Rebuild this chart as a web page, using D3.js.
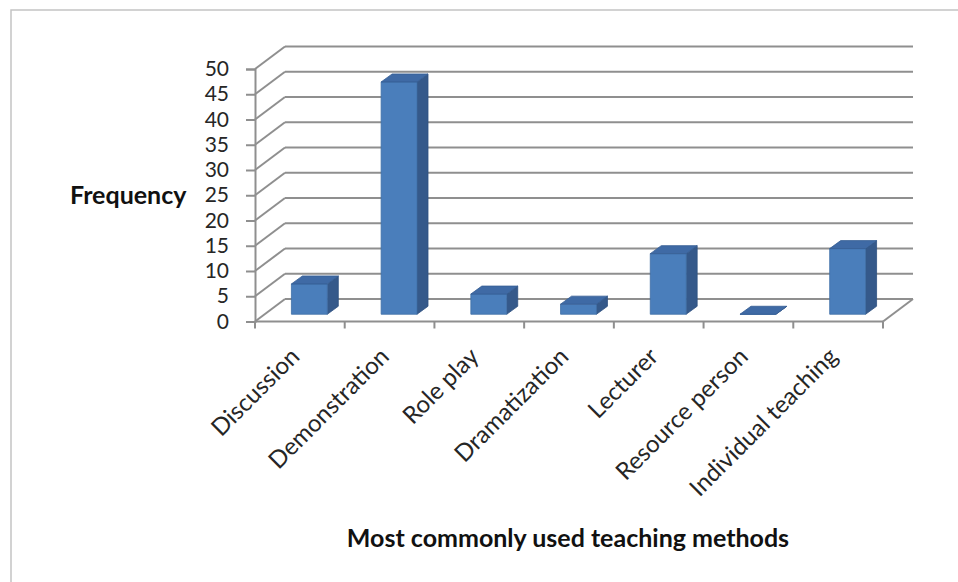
<!DOCTYPE html>
<html>
<head>
<meta charset="utf-8">
<script src="https://cdn.jsdelivr.net/npm/d3@7"></script>
<style>
  html, body { margin: 0; padding: 0; background: #ffffff; }
  svg { display: block; }
</style>
</head>
<body>
<svg id="chart" width="958" height="582"></svg>
<script>
// Teaching methods and how often each was reported
const categories = ["Discussion", "Demonstration", "Role play", "Dramatization", "Lecturer", "Resource person", "Individual teaching"];
const frequency = [6, 46, 4, 2, 12, 0, 13];
const yTicks = [0, 5, 10, 15, 20, 25, 30, 35, 40, 45, 50];
const yTitle = "Frequency";
const xTitle = "Most commonly used teaching methods";

const svg = d3.select("#chart");
const font = "Lato, 'Open Sans', sans-serif";

// Plot geometry: front plane of the 3-D box plus a receding depth offset
const front = { left: 255, right: 883, bottom: 321.5, top: 69 };
const depth = { dx: 30, dy: -22.5 };
const gridColor = "#8f8f8f";

const x = d3.scaleBand().domain(categories).range([front.left, front.right]).paddingInner(0).paddingOuter(0);
const y = d3.scaleLinear().domain([0, 50]).range([front.bottom, front.top]);

// Outer frame
svg.append("path")
  .attr("d", `M11,582 L11,10 L958,10`)
  .attr("fill", "none").attr("stroke", "#c4c4c4").attr("stroke-width", 1.5);

const grid = svg.append("g").attr("stroke", gridColor).attr("stroke-width", 2).attr("fill", "none");

// Back-wall gridlines and side-wall diagonals
yTicks.forEach(v => {
  const yf = y(v);
  grid.append("line")
    .attr("x1", front.left + depth.dx).attr("y1", yf + depth.dy)
    .attr("x2", front.right + depth.dx).attr("y2", yf + depth.dy);
  grid.append("line")
    .attr("x1", front.left).attr("y1", yf)
    .attr("x2", front.left + depth.dx).attr("y2", yf + depth.dy);
});
// Floor right edge
grid.append("line")
  .attr("x1", front.right).attr("y1", y(0))
  .attr("x2", front.right + depth.dx).attr("y2", y(0) + depth.dy);

// Front value axis
const yAxis = d3.axisLeft(y).tickValues(yTicks).tickSize(9).tickPadding(17).tickFormat(d3.format("d"));
const gy = svg.append("g").attr("transform", `translate(${front.left},0)`).call(yAxis);
gy.select(".domain").attr("stroke", gridColor).attr("stroke-width", 2);
gy.selectAll(".tick line").attr("stroke", gridColor).attr("stroke-width", 2);
gy.selectAll(".tick text")
  .attr("font-family", font).attr("font-size", 21).attr("fill", "#262626");

// Front category axis with boundary ticks
const gx = svg.append("g");
gx.append("line")
  .attr("x1", front.left).attr("x2", front.right)
  .attr("y1", y(0)).attr("y2", y(0))
  .attr("stroke", gridColor).attr("stroke-width", 2);
const bounds = categories.map(c => x(c)).concat([front.right]);
gx.selectAll("line.tick").data(bounds).join("line")
  .attr("class", "tick")
  .attr("x1", d => d).attr("x2", d => d)
  .attr("y1", y(0)).attr("y2", y(0) + 7)
  .attr("stroke", gridColor).attr("stroke-width", 2);

// 3-D columns sit in the middle of the box depth
const barDepth = { dx: 11, dy: -8 };
const inset = { dx: (depth.dx - barDepth.dx) / 2, dy: (depth.dy - barDepth.dy) / 2 };
const barW = x.bandwidth() * 0.4;

const bars = svg.append("g").selectAll("g.bar")
  .data(categories.map((c, i) => ({ c, v: frequency[i] })))
  .join("g").attr("class", "bar");

bars.each(function (d) {
  const g = d3.select(this);
  const x0 = x(d.c) + x.bandwidth() / 2 - barW / 2 + inset.dx;
  const x1 = x0 + barW;
  const yb = y(0) + inset.dy;
  const yt = y(d.v) + inset.dy;
  const bx = barDepth.dx, by = barDepth.dy;
  // side face
  g.append("path")
    .attr("d", `M${x1},${yb} L${x1 + bx},${yb + by} L${x1 + bx},${yt + by} L${x1},${yt} Z`)
    .attr("fill", "#35598a").attr("stroke", "#2f5180").attr("stroke-width", 0.8);
  // front face
  g.append("path")
    .attr("d", `M${x0},${yb} L${x1},${yb} L${x1},${yt} L${x0},${yt} Z`)
    .attr("fill", "#4a7ebb").attr("stroke", "#3f6ea6").attr("stroke-width", 0.8);
  // top face
  g.append("path")
    .attr("d", `M${x0},${yt} L${x1},${yt} L${x1 + bx},${yt + by} L${x0 + bx},${yt + by} Z`)
    .attr("fill", "#3f6aa5").attr("stroke", "#355d93").attr("stroke-width", 0.8);
});

// Rotated category labels
svg.append("g").selectAll("text")
  .data(categories).join("text")
  .attr("transform", d => `translate(${x(d) + x.bandwidth() / 2 + 1},358) rotate(-45)`)
  .attr("text-anchor", "end")
  .attr("font-family", font).attr("font-size", 24).attr("fill", "#262626")
  .text(d => d);

// Axis titles
svg.append("text")
  .attr("x", 70).attr("y", 204)
  .attr("font-family", font).attr("font-size", 25).attr("font-weight", "bold").attr("fill", "#111")
  .text(yTitle);
svg.append("text")
  .attr("x", 568).attr("y", 547)
  .attr("text-anchor", "middle")
  .attr("font-family", font).attr("font-size", 25).attr("font-weight", "bold").attr("fill", "#111")
  .text(xTitle);
</script>
</body>
</html>
